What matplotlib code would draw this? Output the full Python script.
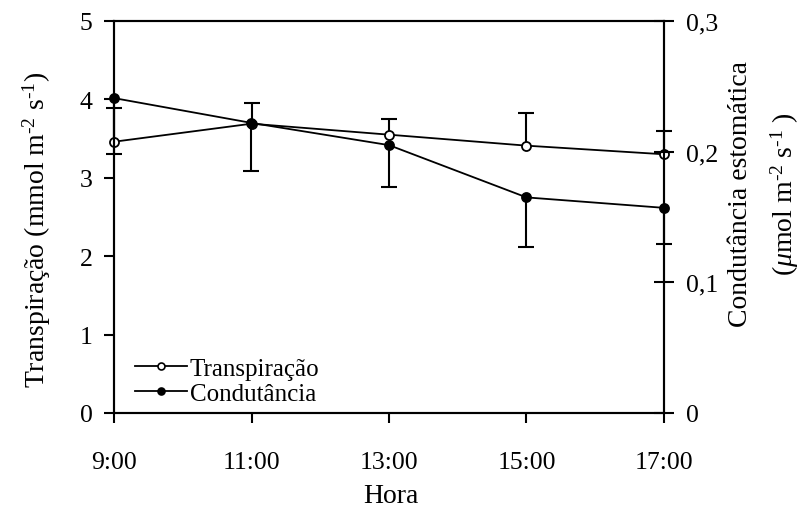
import matplotlib
matplotlib.use("Agg")
import matplotlib.pyplot as plt
from matplotlib.lines import Line2D
import numpy as np

# Time of day (hours) and tick labels
hours = [9, 11, 13, 15, 17]
hour_labels = ["9:00", "11:00", "13:00", "15:00", "17:00"]

# Transpiration (mmol m-2 s-1) with upper error
transp = [3.46, 3.69, 3.55, 3.41, 3.30]
transp_err = [0.43, 0.26, 0.20, 0.42, 0.30]

# Stomatal conductance (umol m-2 s-1) with lower error
cond = [0.241, 0.222, 0.205, 0.165, 0.157]
cond_err = [0.043, 0.037, 0.032, 0.038, 0.028]

left_ticks = [0, 1, 2, 3, 4, 5]
right_ticks = [0, 0.1, 0.2, 0.3]
right_labels = ["0", "0,1", "0,2", "0,3"]

plt.rcParams["font.family"] = ["Liberation Serif", "DejaVu Serif"]
plt.rcParams["mathtext.fontset"] = "custom"
plt.rcParams["mathtext.rm"] = "Liberation Serif"
plt.rcParams["mathtext.it"] = "Liberation Serif:italic"
plt.rcParams["mathtext.default"] = "regular"

fig = plt.figure(figsize=(8.04, 5.10), dpi=100)
ax = fig.add_axes([114 / 804, 1 - 414 / 510, 550 / 804, 392 / 510])
ax2 = ax.twinx()

for a in (ax, ax2):
    for s in a.spines.values():
        s.set_linewidth(1.5)

x = np.array(hours, dtype=float)
t = np.array(transp)
te = np.array(transp_err)
c = np.array(cond)
ce = np.array(cond_err)

# Error bars: transpiration upward, conductance downward
ax.vlines(x, t, t + te, colors="black", lw=1.5, zorder=3, clip_on=False)
ax.plot(x, t + te, ls="none", marker="_", ms=11.5, mew=1.5, color="black",
        zorder=3, clip_on=False)
ax2.vlines(x, c - ce, c, colors="black", lw=1.5, zorder=3, clip_on=False)
ax2.plot(x, c - ce, ls="none", marker="_", ms=11.5, mew=1.5, color="black",
         zorder=3, clip_on=False)

ax.plot(x, t, color="black", lw=1.3, marker="o", ms=6.5, mfc="white",
        mec="black", mew=1.3, zorder=4, clip_on=False)
ax2.plot(x, c, color="black", lw=1.3, marker="o", ms=6.5, mfc="black",
         mec="black", mew=1.3, zorder=4, clip_on=False)

ax.set_xlim(9, 17)
ax.set_ylim(0, 5)
ax2.set_ylim(0, 0.3)

ax.set_xticks(hours)
ax.set_xticklabels(hour_labels)
ax.set_yticks(left_ticks)
ax.set_yticklabels([str(v) for v in left_ticks])
ax2.set_yticks(right_ticks)
ax2.set_yticklabels(right_labels)

ax.tick_params(axis="x", direction="out", length=7.5, width=1.5, pad=20,
               labelsize=18.5, top=False)
ax.tick_params(axis="y", direction="out", length=7.5, width=1.5, pad=8,
               labelsize=18.5, right=False)
ax2.tick_params(axis="y", direction="inout", length=14, width=1.5, pad=9,
                labelsize=18.5)

ax.set_xlabel("Hora", fontsize=20, va="top")
ax.xaxis.set_label_coords(0.504, -0.178)

ax.set_ylabel("Transpiração (mmol m$^{\\text{-}2}$ s$^{\\text{-}1}$)",
              fontsize=20, va="center", ha="center")
ax.yaxis.set_label_coords(-0.14, 0.47)

ax2.set_ylabel("Condutância estomática\n"
               "($\\mathit{\\mu}$mol m$^{\\text{-}2}$ s$^{\\text{-}1}$ )",
               fontsize=20, va="center", ha="center", rotation=90,
               linespacing=1.65)
ax2.yaxis.set_label_coords(1.182, 0.56)

handles = [
    Line2D([], [], color="black", lw=1.3, marker="o", ms=5, mfc="white",
           mec="black", mew=1.2),
    Line2D([], [], color="black", lw=1.3, marker="o", ms=5, mfc="black",
           mec="black", mew=1.2),
]
ax.legend(handles, ["Transpiração", "Condutância"], loc="lower left",
          bbox_to_anchor=(0.02, -0.005), frameon=False, fontsize=18,
          handlelength=2.1, handletextpad=0.1, labelspacing=0.1,
          borderaxespad=0.2, borderpad=0.2)

fig.savefig("out.png", dpi=100)
